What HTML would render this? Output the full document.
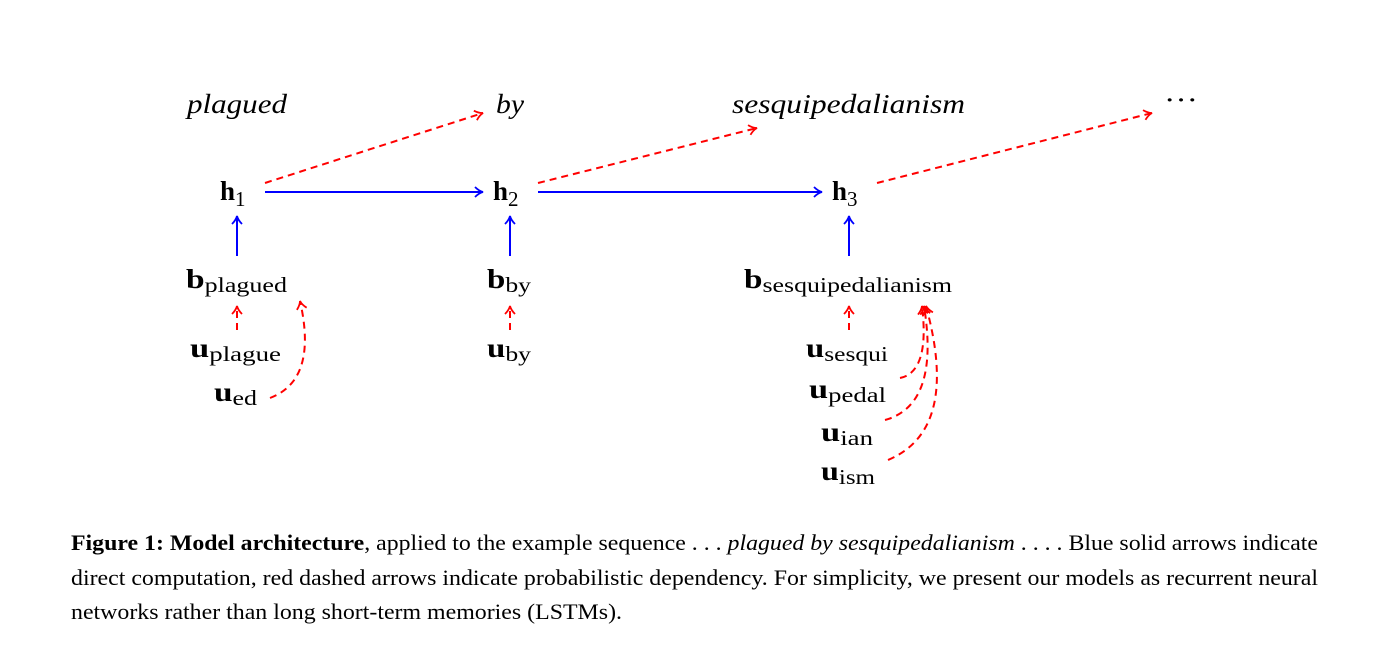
<!DOCTYPE html>
<html><head><meta charset="utf-8"><style>
html,body{margin:0;padding:0;background:#fff;width:1384px;height:658px;overflow:hidden}
svg{display:block}
.t{font-family:"Liberation Serif",serif;font-size:27px;fill:#000}
.it{font-style:italic}
.b{font-weight:bold}
.sub{font-size:21px;font-weight:normal}
.cap{font-family:"Liberation Serif",serif;font-size:22px;fill:#000}
.blue{stroke:#0000ff;stroke-width:2;fill:none}
.red{stroke:#ff0000;stroke-width:2;fill:none;stroke-dasharray:7,5}
</style></head><body>
<svg width="1384" height="658">
<defs>
<marker id="ab" markerWidth="12" markerHeight="12" refX="10" refY="6" orient="auto" markerUnits="userSpaceOnUse"><path d="M2,1 Q6,5 10,6 Q6,7 2,11" stroke="#00f" stroke-width="1.8" fill="none"/></marker>
<marker id="ar" markerWidth="12" markerHeight="12" refX="10" refY="6" orient="auto" markerUnits="userSpaceOnUse"><path d="M2,1 Q6,5 10,6 Q6,7 2,11" stroke="#f00" stroke-width="1.8" fill="none"/></marker>
</defs>
<g>
<text class="t it" x="187" y="113" textLength="100" lengthAdjust="spacingAndGlyphs">plagued</text>
<text class="t it" x="496" y="113" textLength="28" lengthAdjust="spacingAndGlyphs">by</text>
<text class="t it" x="732" y="113" textLength="233" lengthAdjust="spacingAndGlyphs">sesquipedalianism</text>
<text class="t" x="1164" y="109" font-size="30" textLength="34" lengthAdjust="spacingAndGlyphs">···</text>
</g>
<g>
<text class="t b" x="220" y="200">h<tspan class="sub" dy="6">1</tspan></text>
<text class="t b" x="493" y="200">h<tspan class="sub" dy="6">2</tspan></text>
<text class="t b" x="832" y="200">h<tspan class="sub" dy="6">3</tspan></text>
</g>
<g>
<line class="blue" x1="265" y1="192" x2="483" y2="192" marker-end="url(#ab)"/>
<line class="blue" x1="538" y1="192" x2="822" y2="192" marker-end="url(#ab)"/>
<line class="blue" x1="237" y1="256" x2="237" y2="216" marker-end="url(#ab)"/>
<line class="blue" x1="510" y1="256" x2="510" y2="216" marker-end="url(#ab)"/>
<line class="blue" x1="849" y1="256" x2="849" y2="216" marker-end="url(#ab)"/>
</g>
<g>
<line class="red" x1="265" y1="183" x2="483" y2="113" marker-end="url(#ar)"/>
<line class="red" x1="538" y1="183" x2="757" y2="128" marker-end="url(#ar)"/>
<line class="red" x1="877" y1="183" x2="1152" y2="113" marker-end="url(#ar)"/>
<line class="red" x1="237" y1="330" x2="237" y2="306" marker-end="url(#ar)"/>
<line class="red" x1="510" y1="330" x2="510" y2="306" marker-end="url(#ar)"/>
<line class="red" x1="849" y1="330" x2="849" y2="306" marker-end="url(#ar)"/>
<path class="red" d="M270,398 Q318,380 300,301" marker-end="url(#ar)"/>
<path class="red" d="M900,378 Q930,372 922,306" marker-end="url(#ar)"/>
<path class="red" d="M885,420 Q940,405 924,306" marker-end="url(#ar)"/>
<path class="red" d="M888,460 Q960,430 926,306" marker-end="url(#ar)"/>
</g>
<g>
<text class="t b" x="186" y="288" textLength="101" lengthAdjust="spacingAndGlyphs">b<tspan class="sub" dy="4">plagued</tspan></text>
<text class="t b" x="487" y="288" textLength="44" lengthAdjust="spacingAndGlyphs">b<tspan class="sub" dy="4">by</tspan></text>
<text class="t b" x="744" y="288" textLength="208" lengthAdjust="spacingAndGlyphs">b<tspan class="sub" dy="4">sesquipedalianism</tspan></text>
</g>
<g>
<text class="t b" x="190" y="357" textLength="91" lengthAdjust="spacingAndGlyphs">u<tspan class="sub" dy="4">plague</tspan></text>
<text class="t b" x="214" y="401" textLength="43" lengthAdjust="spacingAndGlyphs">u<tspan class="sub" dy="4">ed</tspan></text>
<text class="t b" x="487" y="357" textLength="44" lengthAdjust="spacingAndGlyphs">u<tspan class="sub" dy="4">by</tspan></text>
<text class="t b" x="806" y="357" textLength="82" lengthAdjust="spacingAndGlyphs">u<tspan class="sub" dy="4">sesqui</tspan></text>
<text class="t b" x="809" y="398" textLength="77" lengthAdjust="spacingAndGlyphs">u<tspan class="sub" dy="4">pedal</tspan></text>
<text class="t b" x="821" y="441" textLength="52" lengthAdjust="spacingAndGlyphs">u<tspan class="sub" dy="4">ian</tspan></text>
<text class="t b" x="821" y="480" textLength="54" lengthAdjust="spacingAndGlyphs">u<tspan class="sub" dy="4">ism</tspan></text>
</g>
<g>
<text class="cap" x="71" y="550" textLength="1247" lengthAdjust="spacingAndGlyphs"><tspan font-weight="bold">Figure 1: Model architecture</tspan>, applied to the example sequence . . . <tspan font-style="italic">plagued by sesquipedalianism</tspan> . . . . Blue solid arrows indicate</text>
<text class="cap" x="71" y="585" textLength="1247" lengthAdjust="spacingAndGlyphs">direct computation, red dashed arrows indicate probabilistic dependency. For simplicity, we present our models as recurrent neural</text>
<text class="cap" x="71" y="619" textLength="551" lengthAdjust="spacingAndGlyphs">networks rather than long short-term memories (LSTMs).</text>
</g>
</svg>
</body></html>
